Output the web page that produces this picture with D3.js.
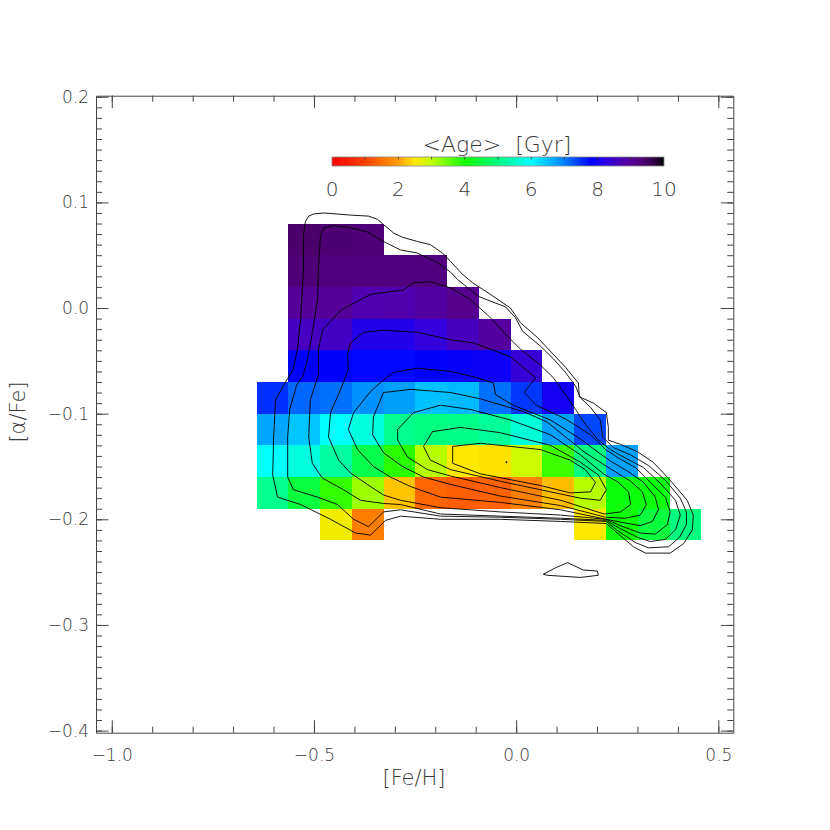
<!DOCTYPE html>
<html>
<head>
<meta charset="utf-8">
<script src="https://cdn.jsdelivr.net/npm/d3@7"></script>
<style>
body { margin: 0; background: #fff; }
text { font-family: "DejaVu Sans", sans-serif; font-weight: 300; fill: #3a3a3a; }
</style>
</head>
<body>
<div id="chart"></div>
<script>
// bin edges of the age map
var fehEdges = [-0.642, -0.563, -0.485, -0.406, -0.328, -0.249, -0.170, -0.092, -0.013, 0.065, 0.144, 0.223, 0.301, 0.380, 0.458];
var afeEdges = [0.08, 0.05, 0.02, -0.01, -0.04, -0.07, -0.10, -0.13, -0.16, -0.19, -0.22];

// mean age per bin [Gyr], rows from top (high alpha) to bottom
var ageGrid = [
    [null, 9.4, 9.35, 9.3, null, null, null, null, null, null, null, null, null, null],
    [null, 9.3, 9.25, 9.25, 9.25, 9.25, null, null, null, null, null, null, null, null],
    [null, 9.0, 9.0, 8.75, 8.78, 8.9, 9.1, null, null, null, null, null, null, null],
    [null, 8.6, 8.55, 8.15, 8.15, 8.35, 8.62, 8.95, null, null, null, null, null, null],
    [null, 7.8, 7.8, 7.75, 7.75, 7.8, 7.9, 7.95, 8.4, null, null, null, null, null],
    [7.5, 7.15, 7.1, 6.87, 6.75, 6.5, 6.55, 7.1, 7.45, 8.0, null, null, null, null],
    [6.7, 6.45, 6.0, 5.75, 5.1, 5.0, 5.05, 5.2, 5.7, 6.75, 7.35, null, null, null],
    [6.0, 5.75, 5.25, 4.6, 3.85, 3.05, 2.5, 2.45, 2.9, 3.75, 5.0, 6.75, null, null],
    [5.1, 4.5, 3.8, 3.2, 2.25, 1.4, 1.3, 1.35, 1.7, 2.2, 3.05, 4.1, 4.1, null],
    [null, null, 2.6, 1.65, null, null, null, null, null, null, 2.5, 4.05, 4.5, 5.0]
];

// density contours, [Fe/H, alpha/Fe] points, outer to inner
var c1 = [[-0.521,0.082],[-0.513,0.087],[-0.501,0.089],[-0.476,0.090],[-0.410,0.088],[-0.365,0.087],[-0.343,0.084],[-0.328,0.079],[-0.303,0.071],[-0.281,0.067],[-0.244,0.063],[-0.212,0.060],[-0.182,0.052],[-0.162,0.044],[-0.133,0.032],[-0.108,0.024],[-0.064,0.013],[-0.014,0.000],[0.011,-0.014],[0.053,-0.028],[0.122,-0.056],[0.154,-0.071],[0.156,-0.084],[0.191,-0.090],[0.223,-0.099],[0.228,-0.113],[0.228,-0.125],[0.258,-0.129],[0.300,-0.136],[0.339,-0.146],[0.381,-0.163],[0.423,-0.182],[0.438,-0.196],[0.436,-0.210],[0.414,-0.223],[0.381,-0.232],[0.320,-0.232],[0.290,-0.226],[0.241,-0.210],[0.223,-0.204],[0.110,-0.202],[-0.039,-0.200],[-0.187,-0.200],[-0.286,-0.197],[-0.323,-0.201],[-0.360,-0.215],[-0.397,-0.213],[-0.459,-0.200],[-0.533,-0.186],[-0.590,-0.179],[-0.602,-0.158],[-0.600,-0.125],[-0.595,-0.087],[-0.575,-0.073],[-0.551,-0.058],[-0.541,-0.039],[-0.533,-0.011],[-0.526,0.036],[-0.526,0.069]];
var c2 = [[-0.484,0.068],[-0.476,0.076],[-0.452,0.078],[-0.410,0.076],[-0.368,0.072],[-0.328,0.063],[-0.286,0.055],[-0.244,0.052],[-0.195,0.043],[-0.162,0.034],[-0.145,0.027],[-0.093,0.011],[-0.026,0.001],[-0.002,-0.009],[0.016,-0.022],[0.060,-0.036],[0.092,-0.048],[0.122,-0.061],[0.147,-0.074],[0.159,-0.085],[0.184,-0.094],[0.208,-0.106],[0.214,-0.122],[0.240,-0.132],[0.283,-0.139],[0.327,-0.149],[0.369,-0.163],[0.406,-0.180],[0.421,-0.193],[0.421,-0.205],[0.404,-0.217],[0.377,-0.226],[0.327,-0.227],[0.295,-0.222],[0.248,-0.210],[0.223,-0.202],[0.110,-0.200],[-0.039,-0.198],[-0.187,-0.197],[-0.286,-0.191],[-0.328,-0.193],[-0.365,-0.207],[-0.402,-0.200],[-0.442,-0.186],[-0.491,-0.179],[-0.551,-0.172],[-0.565,-0.160],[-0.565,-0.122],[-0.560,-0.096],[-0.543,-0.073],[-0.528,-0.065],[-0.516,-0.049],[-0.504,-0.023],[-0.491,0.008],[-0.489,0.039]];
var c3 = [[-0.279,0.017],[-0.254,0.024],[-0.212,0.025],[-0.162,0.019],[-0.113,0.008],[-0.064,-0.009],[-0.026,-0.025],[0.011,-0.039],[0.060,-0.054],[0.092,-0.066],[0.122,-0.082],[0.147,-0.096],[0.171,-0.110],[0.203,-0.125],[0.233,-0.134],[0.270,-0.142],[0.315,-0.151],[0.357,-0.166],[0.394,-0.182],[0.406,-0.196],[0.394,-0.210],[0.369,-0.219],[0.332,-0.221],[0.300,-0.217],[0.253,-0.208],[0.223,-0.201],[0.110,-0.199],[-0.039,-0.197],[-0.187,-0.195],[-0.286,-0.186],[-0.328,-0.185],[-0.385,-0.182],[-0.427,-0.172],[-0.479,-0.161],[-0.504,-0.147],[-0.513,-0.122],[-0.509,-0.087],[-0.489,-0.063],[-0.489,-0.039],[-0.479,-0.021],[-0.434,-0.002],[-0.360,0.013]];
var c4 = [[-0.410,-0.033],[-0.377,-0.023],[-0.328,-0.021],[-0.244,-0.023],[-0.162,-0.030],[-0.106,-0.033],[-0.014,-0.046],[0.048,-0.066],[0.020,-0.080],[0.050,-0.092],[0.122,-0.105],[0.184,-0.120],[0.221,-0.134],[0.253,-0.142],[0.295,-0.151],[0.332,-0.165],[0.369,-0.179],[0.381,-0.193],[0.374,-0.205],[0.344,-0.214],[0.307,-0.213],[0.258,-0.206],[0.223,-0.200],[0.110,-0.196],[-0.039,-0.193],[-0.187,-0.189],[-0.286,-0.182],[-0.328,-0.177],[-0.368,-0.167],[-0.410,-0.156],[-0.439,-0.144],[-0.464,-0.122],[-0.459,-0.099],[-0.434,-0.077],[-0.415,-0.058],[-0.417,-0.044]];
var c5 = [[-0.328,-0.068],[-0.303,-0.061],[-0.244,-0.057],[-0.162,-0.060],[-0.106,-0.065],[-0.056,-0.071],[-0.051,-0.082],[-0.007,-0.092],[0.085,-0.106],[0.159,-0.124],[0.208,-0.138],[0.238,-0.146],[0.278,-0.155],[0.315,-0.165],[0.344,-0.179],[0.352,-0.191],[0.337,-0.202],[0.307,-0.206],[0.263,-0.203],[0.223,-0.200],[0.110,-0.191],[-0.039,-0.184],[-0.187,-0.179],[-0.261,-0.169],[-0.311,-0.160],[-0.353,-0.150],[-0.392,-0.134],[-0.415,-0.115],[-0.402,-0.099],[-0.360,-0.079]];
var c6 = [[-0.328,-0.080],[-0.261,-0.077],[-0.162,-0.080],[-0.088,-0.086],[0.018,-0.098],[0.077,-0.108],[0.122,-0.122],[0.171,-0.137],[0.216,-0.148],[0.245,-0.155],[0.283,-0.164],[0.312,-0.174],[0.322,-0.186],[0.307,-0.196],[0.270,-0.199],[0.221,-0.198],[0.110,-0.187],[-0.039,-0.178],[-0.162,-0.167],[-0.229,-0.160],[-0.281,-0.150],[-0.328,-0.137],[-0.355,-0.120],[-0.353,-0.103]];
var c7 = [[-0.254,-0.099],[-0.187,-0.092],[-0.113,-0.096],[-0.014,-0.106],[0.085,-0.120],[0.159,-0.139],[0.216,-0.157],[0.253,-0.165],[0.278,-0.174],[0.283,-0.186],[0.258,-0.193],[0.218,-0.195],[0.110,-0.182],[-0.039,-0.170],[-0.162,-0.159],[-0.219,-0.153],[-0.269,-0.141],[-0.293,-0.125],[-0.293,-0.115]];
var c8 = [[-0.207,-0.117],[-0.138,-0.113],[-0.039,-0.118],[0.085,-0.130],[0.159,-0.146],[0.203,-0.158],[0.223,-0.172],[0.208,-0.182],[0.159,-0.180],[0.060,-0.172],[-0.039,-0.164],[-0.162,-0.153],[-0.212,-0.144],[-0.229,-0.131]];
var c9 = [[-0.157,-0.131],[-0.088,-0.128],[0.060,-0.134],[0.134,-0.144],[0.171,-0.153],[0.196,-0.165],[0.184,-0.174],[0.134,-0.175],[0.060,-0.168],[-0.088,-0.157],[-0.157,-0.147]];
var cPeak = [[-0.025,-0.1455],[-0.023,-0.1455],[-0.023,-0.1465],[-0.025,-0.1465]];
var cIsland = [[0.067,-0.252],[0.097,-0.246],[0.127,-0.241],[0.166,-0.248],[0.201,-0.249],[0.203,-0.253],[0.159,-0.255],[0.077,-0.253]];
var contours = [c1, c2, c3, c4, c5, c6, c7, c8, c9, cPeak, cIsland];

// colour table (age -> colour)
var ageStops = [0, 1, 2, 2.5, 3, 4, 5, 6, 7, 7.8, 8.3, 8.75, 9.1, 9.4, 9.7, 10];
var ageColors = ["#ff0000", "#ff4000", "#ffa000", "#ffe800", "#c0ff00", "#10ff00", "#00ff80", "#00ffff", "#0080ff", "#0000ff", "#3000e0", "#5000b0", "#560090", "#4b006e", "#300048", "#000000"];

var xMajor = [-1.0, -0.5, 0.0, 0.5];
var yMajor = [-0.4, -0.3, -0.2, -0.1, 0.0, 0.1, 0.2];
var cbTicks = [0, 2, 4, 6, 8, 10];

var width = 830, height = 830;
var svg = d3.select("#chart").append("svg")
    .attr("width", width)
    .attr("height", height);

var x = d3.scaleLinear().domain([-1.039, 0.537]).range([96, 733.3]);
var y = d3.scaleLinear().domain([-0.402, 0.201]).range([732.7, 95.7]);
var color = d3.scaleLinear().domain(ageStops).range(ageColors).clamp(true);

// age map cells
var cells = [];
ageGrid.forEach(function(row, r) {
    row.forEach(function(v, c) {
        if (v !== null) cells.push({r: r, c: c, v: v});
    });
});

svg.append("g")
    .selectAll("rect")
    .data(cells)
    .enter().append("rect")
    .attr("x", d => x(fehEdges[d.c]))
    .attr("y", d => y(afeEdges[d.r]))
    .attr("width", d => x(fehEdges[d.c + 1]) - x(fehEdges[d.c]))
    .attr("height", d => y(afeEdges[d.r + 1]) - y(afeEdges[d.r]))
    .attr("fill", d => color(d.v))
    .attr("shape-rendering", "crispEdges");

// contours
var line = d3.line()
    .x(d => x(d[0]))
    .y(d => y(d[1]))
    .curve(d3.curveLinearClosed);

svg.append("g")
    .selectAll("path")
    .data(contours)
    .enter().append("path")
    .attr("d", line)
    .attr("fill", "none")
    .attr("stroke", "#000")
    .attr("stroke-width", 0.9);

// axes, IDL style box with inward ticks
var fmt = d3.format(".1f");
var xMinor = d3.range(-10, 6).map(d => d / 10);
var yMinor = d3.range(-40, 21).map(d => d / 100);

function styleAxis(g, keepDomain) {
    g.selectAll("line").style("stroke", "#444");
    g.select(".domain").style("stroke", "#444");
    if (!keepDomain) g.select(".domain").remove();
    g.selectAll("text")
        .style("font-size", "17px")
        .style("font-family", '"DejaVu Sans", sans-serif')
        .style("fill", "#3a3a3a");
}

var axes = [
    {fn: d3.axisBottom, sc: x, major: xMajor, minor: xMinor, tr: "translate(0,732.7)", lab: true, pad: 16},
    {fn: d3.axisTop, sc: x, major: xMajor, minor: xMinor, tr: "translate(0,95.7)", lab: false, pad: 16},
    {fn: d3.axisLeft, sc: y, major: yMajor, minor: yMinor, tr: "translate(96,0)", lab: true, pad: 7},
    {fn: d3.axisRight, sc: y, major: yMajor, minor: yMinor, tr: "translate(733.3,0)", lab: false, pad: 7}
];

axes.forEach(function(a) {
    var gMinor = svg.append("g").attr("transform", a.tr)
        .call(a.fn(a.sc).tickValues(a.minor).tickSize(-6).tickSizeOuter(0).tickFormat(""));
    styleAxis(gMinor, false);
    var gMajor = svg.append("g").attr("transform", a.tr)
        .call(a.fn(a.sc).tickValues(a.major).tickSize(-12.5).tickSizeOuter(0)
            .tickPadding(a.pad).tickFormat(a.lab ? fmt : ""));
    styleAxis(gMajor, true);
});

svg.append("text")
    .attr("x", 414)
    .attr("y", 778)
    .attr("dy", "0.35em")
    .attr("text-anchor", "middle")
    .style("font-size", "21px")
    .text("[Fe/H]");

svg.append("text")
    .attr("transform", "translate(18,412) rotate(-90)")
    .attr("dy", "0.35em")
    .attr("text-anchor", "middle")
    .style("font-size", "21px")
    .text("[\u03b1/Fe]");

// colour bar
var cb = d3.scaleLinear().domain([0, 10]).range([332, 664]);
var grad = svg.append("defs").append("linearGradient")
    .attr("id", "ageGrad")
    .attr("x1", "0%").attr("x2", "100%").attr("y1", "0%").attr("y2", "0%");
grad.selectAll("stop")
    .data(ageStops)
    .enter().append("stop")
    .attr("offset", d => (d / 10 * 100) + "%")
    .attr("stop-color", d => color(d));

svg.append("rect")
    .attr("x", cb(0))
    .attr("y", 157)
    .attr("width", cb(10) - cb(0))
    .attr("height", 9)
    .attr("fill", "url(#ageGrad)")
    .attr("stroke", "#888")
    .attr("stroke-width", 0.8);

svg.append("g")
    .selectAll("line")
    .data(d3.range(1, 10))
    .enter().append("line")
    .attr("x1", d => cb(d)).attr("x2", d => cb(d))
    .attr("y1", 157).attr("y2", 159.5)
    .attr("stroke", "#333")
    .attr("stroke-width", 0.8);

svg.append("g")
    .selectAll("text")
    .data(cbTicks)
    .enter().append("text")
    .attr("x", d => cb(d))
    .attr("y", 196)
    .attr("text-anchor", "middle")
    .style("font-size", "20px")
    .text(d => d);

svg.append("text")
    .attr("x", 497)
    .attr("y", 151.5)
    .attr("text-anchor", "middle")
    .style("font-size", "22px")
    .style("white-space", "pre")
    .text("<Age>  [Gyr]");
</script>
</body>
</html>
